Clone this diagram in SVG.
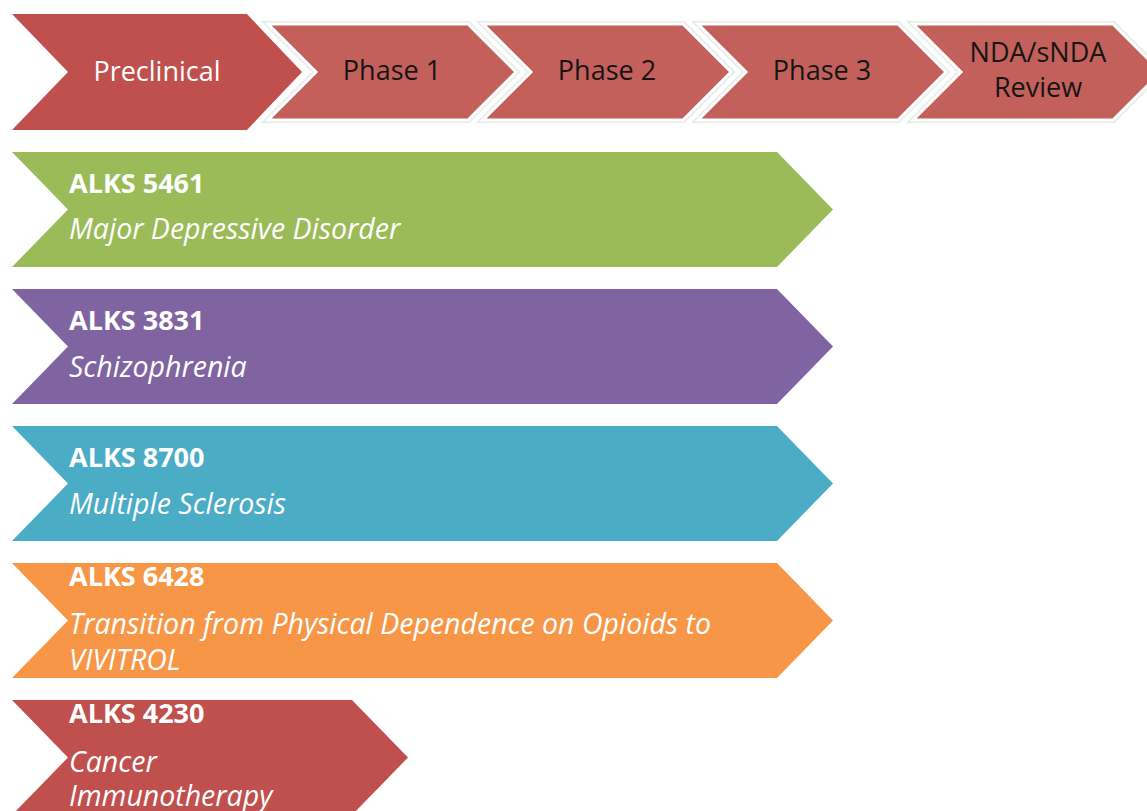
<svg xmlns="http://www.w3.org/2000/svg" width="1147" height="811" viewBox="0 0 1147 811">
<defs>
<style>
.ph{fill:#C4605C;stroke:#ffffff;stroke-width:3;}
.phg{fill:none;stroke:#e6ebe6;stroke-width:6;}
.pt{font-family:"Open Sans","Liberation Sans",sans-serif;font-size:27px;fill:#151515;text-anchor:middle;}
.wt{font-family:"Open Sans","Liberation Sans",sans-serif;font-size:27px;fill:#ffffff;}
.b{font-weight:bold;}
.i{font-style:italic;font-size:28.5px;}
</style>
</defs>
<rect width="1147" height="811" fill="#ffffff"/>
<g id="preclinical">
<polygon points="12,14 247,14 302,72 247,130 12,130 68,72" fill="#C0504D"/>
<text class="wt" x="157" y="81" text-anchor="middle">Preclinical</text>
</g>
<g id="phase1">
<polygon class="phg" points="268,24 468,24 516,72 468,120 268,120 316,72"/>
<polygon class="ph" points="268,24 468,24 516,72 468,120 268,120 316,72"/>
<text class="pt" x="392" y="80">Phase 1</text>
</g>
<g id="phase2">
<polygon class="phg" points="483,24 683,24 731,72 683,120 483,120 531,72"/>
<polygon class="ph" points="483,24 683,24 731,72 683,120 483,120 531,72"/>
<text class="pt" x="607" y="80">Phase 2</text>
</g>
<g id="phase3">
<polygon class="phg" points="698,24 898,24 946,72 898,120 698,120 746,72"/>
<polygon class="ph" points="698,24 898,24 946,72 898,120 698,120 746,72"/>
<text class="pt" x="822" y="80">Phase 3</text>
</g>
<g id="nda">
<polygon class="phg" points="913,24 1113,24 1161,72 1113,120 913,120 961,72"/>
<polygon class="ph" points="913,24 1113,24 1161,72 1113,120 913,120 961,72"/>
<text class="pt" x="1038" y="62">NDA/sNDA</text>
<text class="pt" x="1038" y="97">Review</text>
</g>
<g id="alks5461">
<polygon points="12,152 777,152 833,209.5 777,267 12,267 68,209.5" fill="#9BBB59"/>
<text class="wt b" x="69" y="193">ALKS 5461</text>
<text class="wt i" x="69" y="239">Major Depressive Disorder</text>
</g>
<g id="alks3831">
<polygon points="12,289 777,289 833,346.5 777,404 12,404 68,346.5" fill="#8064A2"/>
<text class="wt b" x="69" y="330">ALKS 3831</text>
<text class="wt i" x="69" y="377">Schizophrenia</text>
</g>
<g id="alks8700">
<polygon points="12,426 777,426 833,483.5 777,541 12,541 68,483.5" fill="#4BACC6"/>
<text class="wt b" x="69" y="467">ALKS 8700</text>
<text class="wt i" x="69" y="514">Multiple Sclerosis</text>
</g>
<g id="alks6428">
<polygon points="12,563 777,563 833,620.5 777,678 12,678 68,620.5" fill="#F79646"/>
<text class="wt b" x="69" y="586">ALKS 6428</text>
<text class="wt i" x="69" y="634">Transition from Physical Dependence on Opioids to</text>
<text class="wt i" x="69" y="670">VIVITROL</text>
</g>
<g id="alks4230">
<polygon points="12,700 352,700 408,757.5 352,815 12,815 68,757.5" fill="#C0504D"/>
<text class="wt b" x="69" y="723">ALKS 4230</text>
<text class="wt i" x="69" y="772">Cancer</text>
<text class="wt i" x="69" y="806">Immunotherapy</text>
</g>
<g id="connectors"></g>
</svg>
